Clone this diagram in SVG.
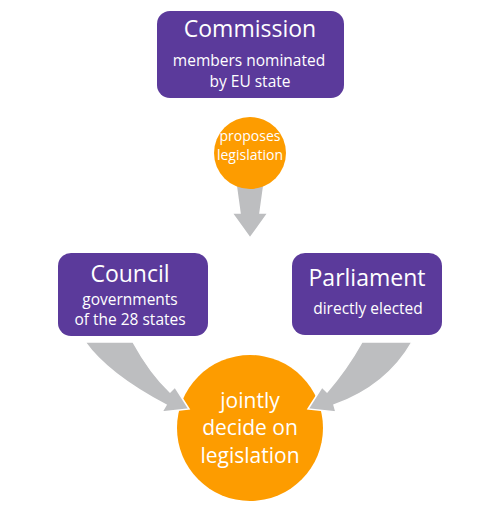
<svg xmlns="http://www.w3.org/2000/svg" width="500" height="529" viewBox="0 0 500 529">
<style>
.box{fill:#5b3a9b}
.circ{fill:#fd9c00}
.arr{fill:#bdbec0;stroke:#ffffff;stroke-width:1.5;stroke-linejoin:miter}
text{font-family:"Open Sans","Noto Sans",sans-serif;fill:#ffffff;text-anchor:middle}
.t{font-size:23px}
.s{font-size:15.5px}
.p{font-size:14px}
.j{font-size:21px}
</style>
<rect width="500" height="529" fill="#ffffff"/>
<g id="connectors">
<path class="arr" d="M236 184 L264 184 L260 213 L268 213 L250 238 L232 213 L240 213 Z"/>
</g>
<g id="commission">
<rect class="box" x="157" y="11" width="187" height="87" rx="13"/>
<text class="t" x="250" y="37">Commission</text>
<text class="s" x="249" y="66">members nominated</text>
<text class="s" x="250" y="87">by EU state</text>
</g>
<g id="proposes">
<circle class="circ" cx="250" cy="153" r="36"/>
<text class="p" x="250" y="141">proposes</text>
<text class="p" x="250" y="160">legislation</text>
</g>
<g id="council">
<rect class="box" x="58" y="253" width="150" height="83" rx="13"/>
<text class="t" x="130" y="282">Council</text>
<text class="s" x="130" y="305">governments</text>
<text class="s" x="130" y="325">of the 28 states</text>
</g>
<g id="parliament">
<rect class="box" x="292" y="253" width="150" height="82" rx="13"/>
<text class="t" x="367" y="286">Parliament</text>
<text class="s" x="368" y="314">directly elected</text>
</g>
<g id="decide">
<circle class="circ" cx="250" cy="428" r="73"/>
<text class="j" x="250" y="408">jointly</text>
<text class="j" x="250" y="435">decide on</text>
<text class="j" x="250" y="463">legislation</text>
</g>
<g id="connectors2">
<path class="arr" d="M85 342 L133 342 C144 362 155 378 170 392 L175 387 L189 409 L162 412 L166 405 C130 386 102 366 85 342 Z"/>
<path class="arr" d="M362 342 L412 342 C396 370 370 392 334 405 L336 412 L308 409 L322 387 L327 392 C341 376 352 360 362 342 Z"/>
</g>
</svg>
